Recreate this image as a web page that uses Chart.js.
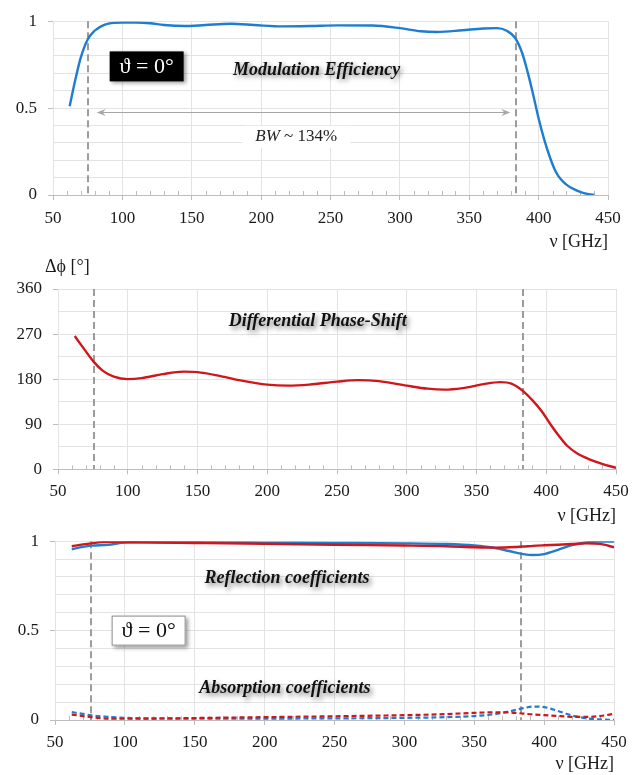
<!DOCTYPE html>
<html><head><meta charset="utf-8">
<script src="https://cdn.jsdelivr.net/npm/chart.js@4"></script>
<style>
html,body{margin:0;padding:0;background:#fff;width:639px;height:775px;overflow:hidden;}
.p{position:absolute;left:0;width:639px;}
</style></head><body>
<div class="p" style="top:0;height:255px"><canvas id="c1"></canvas></div>
<div class="p" style="top:258px;height:271px"><canvas id="c2"></canvas></div>
<div class="p" style="top:520px;height:255px"><canvas id="c3"></canvas></div>
<script>
// ---------- DATA ----------
const xTicks = [50, 100, 150, 200, 250, 300, 350, 400, 450];
const bandEdges = [75.5, 383.5];

const freqEff = [62, 66, 70, 75, 80, 85, 90, 100, 110, 120, 130, 145, 160, 178, 195, 215, 235, 255, 280, 300, 315, 327, 345, 360, 370, 377, 383, 388, 392, 396, 400, 404, 408, 412, 416, 420, 425, 432, 440];
const modEff  = [0.51, 0.66, 0.79, 0.895, 0.945, 0.972, 0.986, 0.992, 0.992, 0.988, 0.978, 0.972, 0.978, 0.985, 0.978, 0.970, 0.972, 0.976, 0.975, 0.960, 0.942, 0.938, 0.948, 0.958, 0.960, 0.945, 0.905, 0.82, 0.71, 0.58, 0.44, 0.32, 0.22, 0.14, 0.09, 0.06, 0.035, 0.012, 0.0];

const freqPhase = [62, 68, 75.5, 82, 90, 100, 110, 125, 140, 150, 165, 180, 200, 215, 230, 250, 265, 280, 300, 315, 327, 340, 355, 367, 375, 383, 390, 397, 403, 409, 415, 422, 430, 440, 450];
const phaseShift = [266, 243, 215, 197, 185, 180, 182, 190, 195, 194, 187, 178, 169, 167, 169, 175, 178, 176, 167, 161, 159, 162, 170, 174, 171, 157, 138, 115, 90, 67, 47, 32, 21, 11, 3];

const freqCoef = [62, 70, 76, 88, 100, 120, 150, 200, 250, 300, 330, 350, 365, 375, 385, 392, 400, 410, 420, 430, 440, 450];
const reflRed  = [0.972, 0.982, 0.988, 0.996, 0.995, 0.992, 0.990, 0.986, 0.980, 0.976, 0.972, 0.966, 0.964, 0.966, 0.970, 0.974, 0.977, 0.980, 0.984, 0.988, 0.985, 0.966];
const reflBlue = [0.955, 0.968, 0.975, 0.980, 0.992, 0.995, 0.994, 0.992, 0.990, 0.988, 0.984, 0.976, 0.962, 0.945, 0.928, 0.923, 0.928, 0.952, 0.978, 0.993, 0.998, 0.998];
const absRed   = [0.030, 0.022, 0.016, 0.008, 0.007, 0.008, 0.011, 0.016, 0.021, 0.027, 0.033, 0.040, 0.043, 0.042, 0.036, 0.031, 0.027, 0.022, 0.018, 0.017, 0.022, 0.035];
const absBlue  = [0.044, 0.034, 0.026, 0.018, 0.012, 0.009, 0.008, 0.008, 0.009, 0.012, 0.016, 0.022, 0.033, 0.048, 0.066, 0.075, 0.072, 0.050, 0.025, 0.010, 0.003, 0.001];

// ---------- STYLE ----------
const SERIF = '"Liberation Serif", "DejaVu Serif", "Times New Roman", serif';
const BLUE = '#1f7dd0';
const RED = '#d0161b';
const GRID = '#e3e3e3';
const AXIS = '#bdbdbd';
const TXT = '#1a1a1a';

const pts = (xs, ys) => xs.map((x, i) => ({x: x, y: ys[i]}));

function lineDs(xs, ys, color, dashed) {
  return {
    data: pts(xs, ys), borderColor: color, borderWidth: dashed ? 2.2 : 2.4,
    borderDash: dashed ? [5, 3] : [], pointRadius: 0, tension: 0.4,
    cubicInterpolationMode: 'monotone', fill: false
  };
}

function shadowText(ctx, text, x, y, font) {
  ctx.save();
  ctx.font = font;
  ctx.textAlign = 'center';
  ctx.textBaseline = 'middle';
  ctx.shadowColor = 'rgba(0,0,0,0.5)';
  ctx.shadowBlur = 5;
  ctx.shadowOffsetX = 2.5;
  ctx.shadowOffsetY = 2.5;
  ctx.fillStyle = '#111';
  ctx.fillText(text, x, y);
  ctx.restore();
}

function thetaBox(ctx, cx, cy, dark) {
  const w = 74, h = 30;
  ctx.save();
  ctx.shadowColor = 'rgba(0,0,0,0.4)';
  ctx.shadowBlur = 4;
  ctx.shadowOffsetX = 2;
  ctx.shadowOffsetY = 2;
  ctx.fillStyle = dark ? '#000' : '#fff';
  ctx.fillRect(cx - w / 2, cy - h / 2, w, h);
  ctx.restore();
  ctx.save();
  if (!dark) {
    ctx.strokeStyle = '#8c8c8c';
    ctx.lineWidth = 1;
    ctx.strokeRect(cx - w / 2 + 0.5, cy - h / 2 + 0.5, w - 1, h - 1);
  }
  ctx.font = '22px ' + SERIF;
  ctx.textAlign = 'center';
  ctx.textBaseline = 'middle';
  ctx.fillStyle = dark ? '#fff' : '#111';
  ctx.fillText('\u03D1 = 0\u00B0', cx, cy + 1);
  ctx.restore();
}

const decoUnder = {
  id: 'decoUnder',
  beforeDatasetsDraw(chart) {
    const {ctx, chartArea: a, scales: {x}} = chart;
    ctx.save();
    // minor ticks
    ctx.strokeStyle = AXIS;
    ctx.lineWidth = 1;
    for (let f = 60; f < 450; f += 10) {
      if (f % 50 === 0) continue;
      const px = Math.round(x.getPixelForValue(f)) + 0.5;
      ctx.beginPath();
      ctx.moveTo(px, a.bottom);
      ctx.lineTo(px, a.bottom - 4);
      ctx.stroke();
    }
    // band edges
    ctx.strokeStyle = '#9c9c9c';
    ctx.lineWidth = 2;
    ctx.setLineDash([7, 4]);
    bandEdges.forEach(f => {
      const px = Math.round(x.getPixelForValue(f));
      ctx.beginPath();
      ctx.moveTo(px, a.top);
      ctx.lineTo(px, a.bottom);
      ctx.stroke();
    });
    ctx.restore();
  }
};

function makeChart(id, cfg) {
  const H = cfg.H;
  return new Chart(document.getElementById(id), {
    type: 'line',
    data: {datasets: cfg.datasets},
    options: {
      responsive: true, maintainAspectRatio: false, animation: false,
      layout: {padding: {top: cfg.top, right: 639 - cfg.right, left: 0, bottom: 0}},
      plugins: {legend: {display: false}, tooltip: {enabled: false}},
      scales: {
        x: {
          type: 'linear', min: 50, max: 450,
          afterBuildTicks: s => { s.ticks = xTicks.map(v => ({value: v})); },
          ticks: {color: TXT, font: {family: SERIF, size: 17}, padding: cfg.xPad, maxRotation: 0, autoSkip: false},
          grid: {color: GRID, lineWidth: 1, tickLength: 5, tickColor: AXIS},
          border: {display: true, color: AXIS, width: 1},
          title: {display: true, text: '\u03BD [GHz]', align: 'end', color: TXT,
                  font: {family: SERIF, size: 18}, padding: {top: 0, bottom: cfg.titlePad}},
          afterFit: s => { s.height = H - cfg.bottom; }
        },
        y: {
          min: 0, max: cfg.yMax,
          ticks: {stepSize: cfg.yStep, autoSkip: false, color: TXT, padding: 11,
                  font: {family: SERIF, size: 17},
                  callback: v => cfg.isLabel(v) ? cfg.fmt(v) : ''},
          grid: {color: GRID, lineWidth: 1, tickLength: 5,
                 tickColor: c => (c.tick && cfg.isLabel(c.tick.value)) ? AXIS : 'rgba(0,0,0,0)'},
          border: {display: false},
          afterFit: s => { s.width = cfg.left; }
        }
      }
    },
    plugins: [decoUnder, {id: 'over', afterDatasetsDraw: cfg.over}]
  });
}

const halfLabel = v => Math.abs(v * 2 - Math.round(v * 2)) < 1e-6;
const fmtHalf = v => { const r = Math.round(v * 2) / 2; return r === 0 ? '0' : (r === 1 ? '1' : String(r)); };
const LABEL_FONT = 'italic bold 18px ' + SERIF;

// Panel 1: modulation efficiency
makeChart('c1', {
  H: 255, top: 16, bottom: 195, left: 53, right: 608, xPad: 8, titlePad: 2,
  yMax: 1, yStep: 0.1, isLabel: halfLabel, fmt: fmtHalf,
  datasets: [lineDs(freqEff, modEff, BLUE, false)],
  over(chart) {
    const {ctx, scales: {x, y}} = chart;
    thetaBox(ctx, x.getPixelForValue(117.5), y.getPixelForValue(0.74), true);
    shadowText(ctx, 'Modulation Efficiency', x.getPixelForValue(240), y.getPixelForValue(0.72), LABEL_FONT);
    // BW arrow
    const ay = Math.round(y.getPixelForValue(0.479)) + 0.5;
    const x1 = x.getPixelForValue(81.5), x2 = x.getPixelForValue(379.6);
    ctx.save();
    ctx.strokeStyle = '#a6a6a6';
    ctx.fillStyle = '#a6a6a6';
    ctx.lineWidth = 1.2;
    ctx.beginPath(); ctx.moveTo(x1 + 4, ay); ctx.lineTo(x2 - 4, ay); ctx.stroke();
    ctx.beginPath(); ctx.moveTo(x1, ay); ctx.lineTo(x1 + 9, ay - 3.5); ctx.lineTo(x1 + 6, ay); ctx.lineTo(x1 + 9, ay + 3.5); ctx.closePath(); ctx.fill();
    ctx.beginPath(); ctx.moveTo(x2, ay); ctx.lineTo(x2 - 9, ay - 3.5); ctx.lineTo(x2 - 6, ay); ctx.lineTo(x2 - 9, ay + 3.5); ctx.closePath(); ctx.fill();
    // BW label
    const tx = x.getPixelForValue(225.3), ty = y.getPixelForValue(0.335);
    ctx.fillStyle = '#fff';
    ctx.fillRect(tx - 54, ty - 11, 108, 22);
    ctx.textBaseline = 'middle';
    ctx.fillStyle = '#222';
    const a = 'BW', b = ' ~ 134%';
    ctx.font = '17px ' + SERIF;
    const wb = ctx.measureText(b).width;
    ctx.font = 'italic 17px ' + SERIF;
    const wa = ctx.measureText(a).width;
    const sx = tx - (wa + wb) / 2;
    ctx.textAlign = 'left';
    ctx.fillText(a, sx, ty);
    ctx.font = '17px ' + SERIF;
    ctx.fillText(b, sx + wa, ty);
    ctx.restore();
  }
});

// Panel 2: differential phase shift
makeChart('c2', {
  H: 271, top: 31, bottom: 211.3, left: 58, right: 616, xPad: 7, titlePad: 2,
  yMax: 360, yStep: 45, isLabel: v => Math.round(v) % 90 === 0, fmt: v => String(Math.round(v)),
  datasets: [lineDs(freqPhase, phaseShift, RED, false)],
  over(chart) {
    const {ctx, chartArea: a, scales: {x, y}} = chart;
    shadowText(ctx, 'Differential Phase-Shift', x.getPixelForValue(236.2), y.getPixelForValue(294.6), LABEL_FONT);
    ctx.save();
    ctx.font = '18px ' + SERIF;
    ctx.fillStyle = TXT;
    ctx.textAlign = 'left';
    ctx.textBaseline = 'middle';
    ctx.fillText('\u0394\u03D5 [\u00B0]', a.left - 13, a.top - 22);
    ctx.restore();
  }
});

// Panel 3: reflection and absorption coefficients
makeChart('c3', {
  H: 255, top: 17, bottom: 200, left: 55, right: 614, xPad: 7, titlePad: 0,
  yMax: 1, yStep: 0.1, isLabel: halfLabel, fmt: fmtHalf,
  datasets: [
    lineDs(freqCoef, reflRed, RED, false),
    lineDs(freqCoef, reflBlue, BLUE, false),
    lineDs(freqCoef, absRed, RED, true),
    lineDs(freqCoef, absBlue, BLUE, true)
  ],
  over(chart) {
    const {ctx, scales: {x, y}} = chart;
    shadowText(ctx, 'Reflection coefficients', x.getPixelForValue(216), y.getPixelForValue(0.792), LABEL_FONT);
    shadowText(ctx, 'Absorption coefficients', x.getPixelForValue(214.5), y.getPixelForValue(0.175), LABEL_FONT);
    thetaBox(ctx, x.getPixelForValue(117), y.getPixelForValue(0.5), false);
  }
});
</script>
</body></html>
